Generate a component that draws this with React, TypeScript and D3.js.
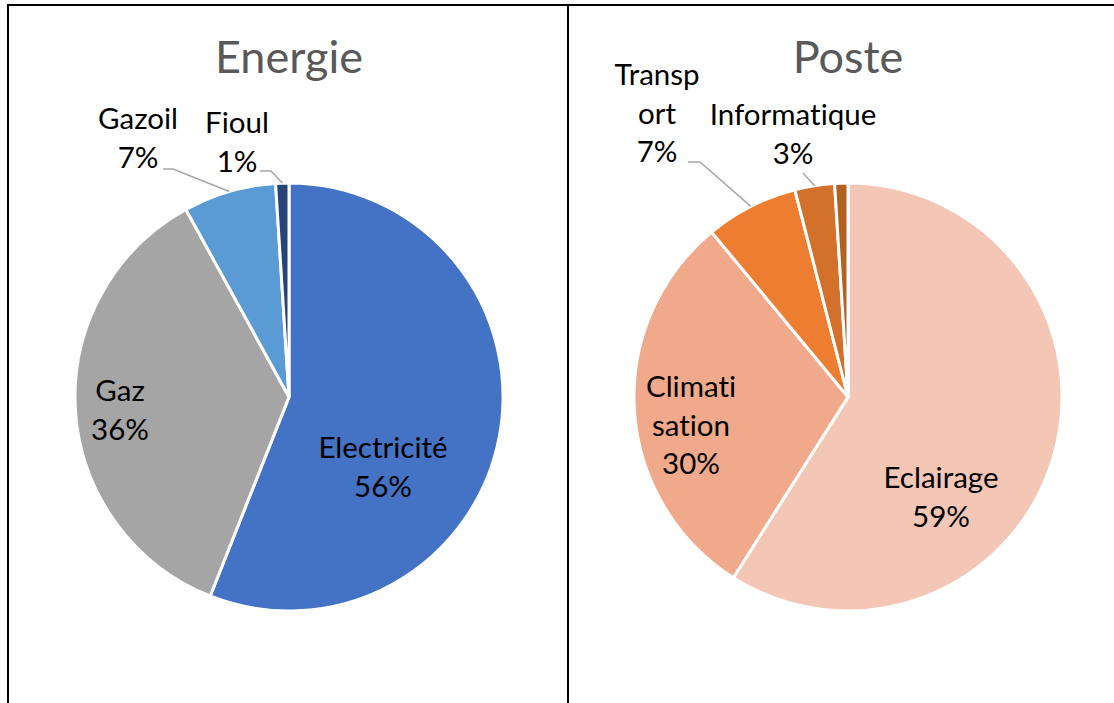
import * as d3 from "d3";

// Energie
const energyNames = ["Electricité", "Gaz", "Gazoil", "Fioul"];
const energyValues = [56, 36, 7, 1];
const energyColors = ["#4472C4", "#A5A5A5", "#5B9BD5", "#264478"];

// Poste (last slice has no visible label)
const posteNames = ["Eclairage", "Climatisation", "Transport", "Informatique", "Autres"];
const posteValues = [59, 30, 7, 3, 1];
const posteColors = ["#F4C6B5", "#F0A98A", "#ED7D31", "#D3702C", "#B2611F"];

// how the category names wrap on screen
const posteLines = [["Eclairage"], ["Climati", "sation"], ["Transp", "ort"], ["Informatique"], []];
const energyLines = [["Electricité"], ["Gaz"], ["Gazoil"], ["Fioul"]];

const W = 1114;
const H = 703;
const R = 214;
const FONT = "Lato, 'Noto Sans', sans-serif";
const LINE_H = 38.5;

// label placement relative to pie centre (px): x centre, first baseline,
// leader start (null = no leader line)
type Place = { dx: number; dy: number; lead?: [number, number][] };
const energyPlace: Place[] = [
  { dx: 94, dy: 61 },
  { dx: -169, dy: 4 },
  { dx: -151, dy: -268, lead: [[-126, -228], [-116, -228]] },
  { dx: -52, dy: -264, lead: [[-29, -226], [-18, -226]] },
];
const postePlace: Place[] = [
  { dx: 93, dy: 91 },
  { dx: -157, dy: 0 },
  { dx: -191, dy: -312, lead: [[-160, -235], [-148, -235]] },
  { dx: -55, dy: -272, lead: [[-45, -224]] },
  { dx: 0, dy: 0 },
];

function Pie({ cx, title, names, values, colors, lines, place }: any) {
  const pie = d3.pie<number>().sort(null).value((d) => d);
  const arcs = pie(values);
  const arc = d3.arc<d3.PieArcDatum<number>>().innerRadius(0).outerRadius(R);
  const cy = 397;
  return (
    <g>
      <text x={cx} y={73} textAnchor="middle" fontFamily={FONT} fontSize={45} fill="#595959">
        {title}
      </text>
      <g transform={`translate(${cx},${cy})`}>
        {arcs.map((a, i) => (
          <path key={names[i]} d={arc(a) || ""} fill={colors[i]} stroke="#fff" strokeWidth={3} />
        ))}
        {arcs.map((a, i) => {
          const p: Place = place[i];
          if (!p.lead) return null;
          const mid = (a.startAngle + a.endAngle) / 2;
          const end: [number, number] = [R * Math.sin(mid), -R * Math.cos(mid)];
          const pts = [...p.lead, end];
          return (
            <path
              key={"l" + i}
              d={d3.line()(pts) || ""}
              fill="none"
              stroke="#A6A6A6"
              strokeWidth={1.5}
            />
          );
        })}
        {arcs.map((a, i) => {
          const p: Place = place[i];
          const ls: string[] = lines[i];
          if (!ls.length) return null;
          const all = [...ls, `${values[i]}%`];
          return (
            <text
              key={"t" + i}
              textAnchor="middle"
              fontFamily={FONT}
              fontSize={29.5}
              fill="#000"
              style={{ fontVariantLigatures: "none" }}
            >
              {all.map((s, k) => (
                <tspan key={k} x={p.dx} y={p.dy + k * LINE_H}>
                  {s}
                </tspan>
              ))}
            </text>
          );
        })}
      </g>
    </g>
  );
}

export default function App() {
  return (
    <svg
      width={W}
      height={H}
      style={{ position: "absolute", left: 0, top: 0, display: "block", background: "#fff" }}
    >
      <rect x={0} y={0} width={W} height={H} fill="#fff" />
      <line x1={8} y1={5} x2={W} y2={5} stroke="#000" strokeWidth={2} />
      <line x1={8} y1={4} x2={8} y2={H} stroke="#000" strokeWidth={2} />
      <line x1={568} y1={4} x2={568} y2={H} stroke="#000" strokeWidth={2} />
      <Pie
        cx={289}
        title="Energie"
        names={energyNames}
        values={energyValues}
        colors={energyColors}
        lines={energyLines}
        place={energyPlace}
      />
      <Pie
        cx={848}
        title="Poste"
        names={posteNames}
        values={posteValues}
        colors={posteColors}
        lines={posteLines}
        place={postePlace}
      />
    </svg>
  );
}
